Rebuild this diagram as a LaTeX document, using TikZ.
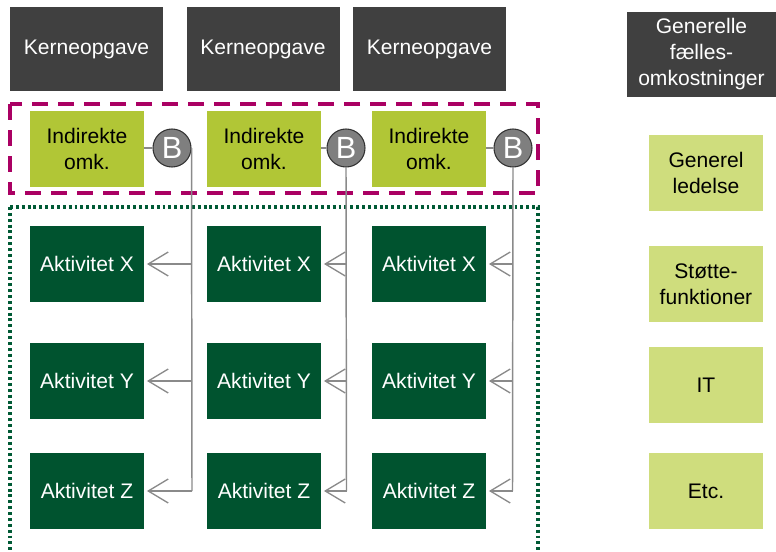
\documentclass[tikz,border=0pt]{standalone}
\usepackage{fontspec}
\setmainfont{Liberation Sans}
\usetikzlibrary{arrows.meta}

\definecolor{coredark}{HTML}{404040}
\definecolor{indgreen}{HTML}{B1C636}
\definecolor{actgreen}{HTML}{00532F}
\definecolor{palegreen}{HTML}{CFDD7D}
\definecolor{plum}{HTML}{AA0063}
\definecolor{dotgreen}{HTML}{005A35}
\definecolor{wire}{HTML}{8A8A8A}
\definecolor{ballfill}{HTML}{7F7F7F}

\tikzset{
  box/.style={rectangle, inner sep=0pt, align=center,
    font=\fontsize{15.8}{19.5}\selectfont,
    minimum width=114*0.75pt, minimum height=76*0.75pt},
  corebox/.style={box, fill=coredark, text=white, minimum width=153*0.75pt, minimum height=84*0.75pt},
  commonbox/.style={box, fill=coredark, text=white, minimum width=149*0.75pt, minimum height=85*0.75pt},
  indbox/.style={box, fill=indgreen, text=black},
  actbox/.style={box, fill=actgreen, text=white},
  sharedbox/.style={box, fill=palegreen, text=black},
  ball/.style={circle, draw=black!80, line width=0.8pt, fill=ballfill, text=white,
    inner sep=0pt, minimum size=38*0.75pt, font=\fontsize{23}{23}\selectfont},
  wireline/.style={draw=wire, line width=1.1pt},
  feed/.style={wireline, -{Straight Barb[length=15pt, width=18pt, line width=1pt]}, shorten >=2pt},
}

\begin{document}
\begin{tikzpicture}[x=0.75pt, y=-0.75pt]
  \useasboundingbox (0,0) rectangle (776,551);

  % grouping frames
  \draw[plum, line width=3pt, dash pattern=on 12pt off 7.5pt] (10,104) rectangle (538,193);
  \draw[dotgreen, line width=2.3pt, dash pattern=on 2.2pt off 2.2pt] (10,207) -- (538,207) -- (538,551);
  \draw[dotgreen, line width=2.3pt, dash pattern=on 2.2pt off 2.2pt] (10,207) -- (10,551);

  % core tasks
  \node[corebox] (k1) at (86.5,49) {Kerneopgave};
  \node[corebox] (k2) at (263,49) {Kerneopgave};
  \node[corebox] (k3) at (429.5,49) {Kerneopgave};
  \node[commonbox] (gf) at (701.5,54) {Generelle\\fælles-\\omkostninger};

  % indirect costs and allocation keys
  \node[indbox] (i1) at (87,149) {Indirekte\\omk.};
  \node[indbox] (i2) at (264,149) {Indirekte\\omk.};
  \node[indbox] (i3) at (429,149) {Indirekte\\omk.};

  % activities
  \foreach \c/\x in {1/87, 2/264, 3/429} {
    \node[actbox] (x\c) at (\x,264) {Aktivitet X};
    \node[actbox] (y\c) at (\x,381) {Aktivitet Y};
    \node[actbox] (z\c) at (\x,491) {Aktivitet Z};
  }

  % shared functions
  \node[sharedbox] (s1) at (706,173) {Generel\\ledelse};
  \node[sharedbox] (s2) at (706,284) {Støtte-\\funktioner};
  \node[sharedbox] (s3) at (706,385) {IT};
  \node[sharedbox] (s4) at (706,491) {Etc.};

  % allocation wires
  \coordinate (t1) at (192,148);
  \coordinate (t2) at (346.5,167);
  \coordinate (t3) at (512.5,167);
  \foreach \c in {1,2,3} {
    \coordinate (jx\c) at (t\c |- x\c);
    \coordinate (jy\c) at (t\c |- y\c);
    \coordinate (jz\c) at (t\c |- z\c);
  }

  \node[ball] (b1) at (172,148) {B};
  \node[ball] (b2) at (346,148) {B};
  \node[ball] (b3) at (513,148) {B};

  \draw[wireline] (i1.east |- b1) -- (b1.west);
  \draw[wireline] (i2.east |- b2) -- (b2.west);
  \draw[wireline] (i3.east |- b3) -- (b3.west);

  \draw[wireline] (b1.east) -- (jz1);
  \draw[wireline] (b2.south) -- (jz2);
  \draw[wireline] (b3.south) -- (jz3);

  \foreach \c in {1,2,3} {
    \draw[feed] (jx\c) -- (x\c.east);
    \draw[feed] (jy\c) -- (y\c.east);
    \draw[feed] (jz\c) -- (z\c.east);
  }
\end{tikzpicture}
\end{document}
